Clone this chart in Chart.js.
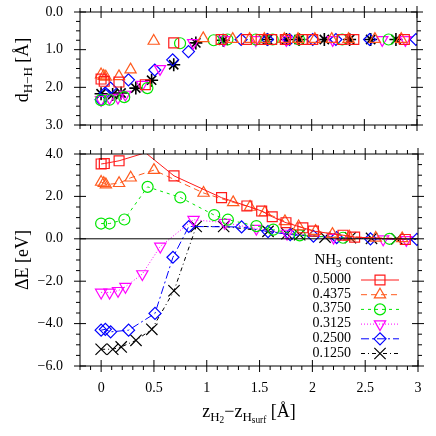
<!DOCTYPE html>
<html>
<head>
<meta charset="utf-8">
<script src="https://cdn.jsdelivr.net/npm/chart.js@4.4.1/dist/chart.umd.min.js"></script>
<style>
  body { margin: 0; background: #fff; }
  #wrap { position: relative; width: 436px; height: 436px; font-family: "Liberation Serif", "Times New Roman", serif; color: #000; }
  .box { position: absolute; left: 0; width: 436px; }
  .txt { position: absolute; white-space: nowrap; line-height: 1; font-size: 18px; }
  .rot { transform: translate(-50%, -50%) rotate(-90deg); }
  sub { font-size: 72%; vertical-align: -0.28em; line-height: 0; }
  #legend { position: absolute; right: 85px; top: 272px; text-align: right; font-size: 14px; line-height: 14.7px; }
</style>
</head>
<body>
<div id="wrap">
  <div class="box" style="top:0;height:140px"><canvas id="topChart"></canvas></div>
  <div class="box" style="top:140px;height:296px"><canvas id="bottomChart"></canvas></div>
  <div class="txt rot" style="left:22px;top:70px">d<sub>H&minus;H</sub> [Å]</div>
  <div class="txt rot" style="left:22px;top:260px">ΔE [eV]</div>
  <div class="txt" style="left:249px;top:411px;transform:translate(-50%,-50%)">z<sub>H<sub>2</sub></sub>&minus;z<sub>H<sub>surf</sub></sub> [Å]</div>
  <div class="txt" style="left:354px;top:259px;font-size:15px;transform:translate(-50%,-50%)">NH<sub>3</sub> content:</div>
  <div id="legend"></div>
</div>
<script>
const FONT = '"Liberation Serif", "Times New Roman", serif';

// NH3 content of each series
const labels = ['0.5000', '0.4375', '0.3750', '0.3125', '0.2500', '0.1250'];

// 0.5000
const z5000 = [0, 0.03, 0.17, 0.42, 0.69, 1.14, 1.38, 1.52, 1.62, 1.75, 1.91, 2.01, 2.29, 2.40, 2.88];
const e5000 = [3.53, 3.55, 3.68, 4.06, 2.97, 1.94, 1.55, 1.31, 1.04, 0.76, 0.52, 0.36, 0.17, 0.08, -0.03];
const d5000 = [1.78, 1.84, 1.86, 1.93, 0.82, 0.73, 0.73, 0.73, 0.73, 0.73, 0.73, 0.73, 0.73, 0.73, 0.73];
// 0.4375
const z4375 = [0, 0.025, 0.045, 0.17, 0.28, 0.50, 0.97, 1.25, 1.41, 1.55, 1.74, 1.87, 2.03, 2.19, 2.35, 2.60, 2.85];
const e4375 = [2.68, 2.62, 2.56, 2.62, 2.88, 3.24, 2.16, 1.72, 1.50, 1.24, 0.82, 0.58, 0.36, 0.22, 0.10, 0.04, 0.02];
const d4375 = [1.66, 1.70, 1.72, 1.71, 1.53, 0.77, 0.70, 0.72, 0.72, 0.72, 0.72, 0.72, 0.72, 0.72, 0.72, 0.72, 0.72];
// 0.3750
const z3750 = [0, 0.08, 0.22, 0.44, 0.75, 1.07, 1.20, 1.47, 1.63, 1.88, 2.29, 2.73];
const e3750 = [0.72, 0.72, 0.91, 2.45, 1.95, 1.12, 0.90, 0.60, 0.43, 0.16, 0.05, 0.0];
const d3750 = [2.34, 2.33, 2.26, 2.02, 0.83, 0.75, 0.73, 0.73, 0.73, 0.73, 0.73, 0.73];
// 0.3125
const z3125 = [0, 0.08, 0.16, 0.23, 0.39, 0.56, 0.875, 1.17, 1.47, 1.76, 2.20, 2.67, 2.89];
const e3125 = [-2.53, -2.53, -2.45, -2.26, -1.66, -0.36, 0.90, 0.76, 0.48, 0.25, 0.06, -0.02, -0.05];
const d3125 = [2.33, 2.28, 2.27, 2.19, 1.93, 1.51, 0.82, 0.74, 0.74, 0.74, 0.74, 0.74, 0.74];
// 0.2500
const z2500 = [0, 0.04, 0.09, 0.26, 0.51, 0.68, 0.83, 1.33, 1.58, 1.79, 2.01, 2.23, 2.55, 2.99];
const e2500 = [-4.31, -4.27, -4.39, -4.31, -3.52, -0.87, 0.58, 0.56, 0.34, 0.20, 0.12, 0.06, 0.0, -0.03];
const d2500 = [2.33, 2.15, 2.02, 1.80, 1.54, 1.27, 1.05, 0.73, 0.73, 0.73, 0.73, 0.73, 0.73, 0.73];
// 0.1250
const z1250 = [0, 0.11, 0.19, 0.33, 0.48, 0.69, 0.90, 1.16, 1.58, 1.76, 1.88, 2.12, 2.36, 2.56, 2.80];
const e1250 = [-5.21, -5.21, -5.10, -4.79, -4.27, -2.45, 0.58, 0.58, 0.35, 0.24, 0.19, 0.08, 0.05, 0.02, 0.0];
const d1250 = [2.17, 2.19, 2.15, 2.02, 1.81, 1.40, 0.82, 0.75, 0.73, 0.73, 0.73, 0.73, 0.73, 0.73, 0.73];

const zAll = [z5000, z4375, z3750, z3125, z2500, z1250];
const eAll = [e5000, e4375, e3750, e3125, e2500, e1250];
const dAll = [d5000, d4375, d3750, d3125, d2500, d1250];

const xTicks = [0, 0.5, 1, 1.5, 2, 2.5, 3];
const dTicks = [0, 1, 2, 3];
const eTicks = [-6, -4, -2, 0, 2, 4];

const styles = [
  { color: '#ff1a1a', shape: 'rect', r: 7, dash: [] },
  { color: '#ff5a1e', shape: 'triangle', r: 6.5, dash: [6, 4] },
  { color: '#00e600', shape: 'circle', r: 5.5, dash: [3, 4] },
  { color: '#ff00ff', shape: 'triangle', rot: 180, r: 6.5, dash: [1, 2] },
  { color: '#0000ff', shape: 'rectRot', r: 6, dash: [8, 3, 2, 3] },
  { color: '#000000', shape: 'crossRot', topShape: 'star', r: 8, dash: [4, 3, 1, 3] }
];

const pts = (xs, ys) => xs.map((x, i) => ({ x: x, y: ys[i] }));
const fmt1 = v => (v < 0 ? '\u2212' : '') + Math.abs(v).toFixed(1);
const noPad = s => { s.paddingTop = 0; s.paddingBottom = 0; s.paddingLeft = 0; s.paddingRight = 0; };

// box with ticks on all four sides, gnuplot style
const frame = {
  id: 'frame',
  afterDatasetsDraw(chart, args, o) {
    const { ctx, chartArea: a } = chart;
    const xs = chart.scales.x, ys = chart.scales.y;
    const seg = (x1, y1, x2, y2) => { ctx.beginPath(); ctx.moveTo(x1, y1); ctx.lineTo(x2, y2); ctx.stroke(); };
    ctx.save();
    ctx.strokeStyle = '#000';
    ctx.lineWidth = 1;
    if (o.zero) {
      const py = ys.getPixelForValue(0);
      seg(a.left, py, a.right, py);
    }
    ctx.strokeRect(a.left, a.top, a.right - a.left, a.bottom - a.top);
    const walk = (min, max, step, major, fn) => {
      const n = Math.round((max - min) / step);
      for (let i = 0; i <= n; i++) {
        const v = min + i * step;
        fn(v, Math.abs(v / major - Math.round(v / major)) < 1e-6);
      }
    };
    walk(xs.min, xs.max, 0.1, 0.5, (v, big) => {
      const px = xs.getPixelForValue(v);
      if (big) { seg(px, a.bottom - 6, px, a.bottom + 6); seg(px, a.top - 6, px, a.top + 6); }
      else { seg(px, a.bottom, px, a.bottom + 4); seg(px, a.top - 4, px, a.top); }
    });
    walk(ys.min, ys.max, o.yMinor, o.yMajor, (v, big) => {
      const py = ys.getPixelForValue(v);
      if (big) { seg(a.left - 6, py, a.left + 6, py); seg(a.right - 6, py, a.right + 6, py); }
      else { seg(a.left - 4, py, a.left, py); seg(a.right, py, a.right + 4, py); }
    });
    ctx.restore();
  }
};

// line + marker samples of the key
const keySamples = {
  id: 'keySamples',
  afterDraw(chart) {
    const ctx = chart.ctx;
    styles.forEach((s, i) => {
      const y = 140 + i * 14.7;
      ctx.save();
      ctx.strokeStyle = s.color;
      ctx.fillStyle = 'rgba(0,0,0,0)';
      ctx.lineWidth = 1;
      ctx.setLineDash(s.dash);
      ctx.beginPath(); ctx.moveTo(361, y); ctx.lineTo(399, y); ctx.stroke();
      ctx.setLineDash([]);
      ctx.lineWidth = 1.2;
      Chart.helpers.drawPoint(ctx, { pointStyle: s.shape, radius: s.r, rotation: s.rot || 0, borderWidth: 1.2 }, 380, y);
      ctx.restore();
    });
  }
};

const yAxis = (min, max, ticks, reverse) => ({
  type: 'linear', min: min, max: max, reverse: reverse,
  grid: { display: false, drawTicks: false }, border: { display: false },
  afterBuildTicks: s => { s.ticks = ticks.map(v => ({ value: v })); },
  afterFit: s => { s.width = 80; noPad(s); },
  ticks: { color: '#000', padding: 17, font: { family: FONT, size: 14 }, callback: v => fmt1(v) }
});

new Chart(document.getElementById('topChart'), {
  type: 'scatter',
  data: {
    datasets: styles.map((s, i) => ({
      label: labels[i],
      data: pts(zAll[i], dAll[i]),
      showLine: false,
      borderColor: s.color,
      backgroundColor: 'rgba(0,0,0,0)',
      pointStyle: s.topShape || s.shape,
      pointRotation: s.rot || 0,
      pointRadius: s.topShape ? 6.5 : s.r,
      pointBorderWidth: s.topShape ? 1.6 : 1.2
    }))
  },
  options: {
    responsive: true,
    maintainAspectRatio: false,
    animation: false,
    layout: { padding: { top: 12, right: 19, bottom: 15 } },
    scales: {
      x: { type: 'linear', min: -0.2, max: 3, display: false },
      y: yAxis(0, 3, dTicks, true)
    },
    plugins: {
      legend: { display: false },
      tooltip: { enabled: false },
      frame: { yMinor: 0.25, yMajor: 1 }
    }
  },
  plugins: [frame]
});

new Chart(document.getElementById('bottomChart'), {
  type: 'scatter',
  data: {
    datasets: styles.map((s, i) => ({
      label: labels[i],
      data: pts(zAll[i], eAll[i]),
      showLine: true,
      borderColor: s.color,
      borderWidth: 1,
      borderDash: s.dash,
      backgroundColor: 'rgba(0,0,0,0)',
      pointStyle: s.shape,
      pointRotation: s.rot || 0,
      pointRadius: c => (c.raw && c.raw.y > 4 ? 0 : s.r),
      pointBorderWidth: 1.2
    }))
  },
  options: {
    responsive: true,
    maintainAspectRatio: false,
    animation: false,
    layout: { padding: { top: 14, right: 18 } },
    scales: {
      x: {
        type: 'linear', min: -0.2, max: 3,
        grid: { display: false, drawTicks: false }, border: { display: false },
        afterBuildTicks: s => { s.ticks = xTicks.map(v => ({ value: v })); },
        afterFit: s => { s.height = 70; noPad(s); },
        ticks: { color: '#000', padding: 14, maxRotation: 0, font: { family: FONT, size: 14 }, callback: v => String(v) }
      },
      y: yAxis(-6, 4, eTicks, false)
    },
    plugins: {
      legend: { display: false },
      tooltip: { enabled: false },
      frame: { yMinor: 0.5, yMajor: 2, zero: true }
    }
  },
  plugins: [frame, keySamples]
});

document.getElementById('legend').innerHTML = labels.map(l => '<div>' + l + '</div>').join('');
</script>
</body>
</html>
